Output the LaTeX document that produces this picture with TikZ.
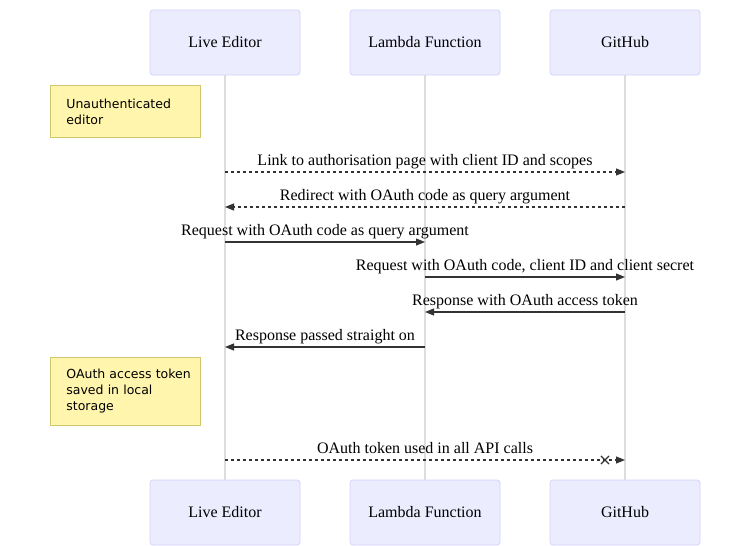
\documentclass[tikz,border=0pt]{standalone}
\usepackage{fontspec}
\setmainfont{Liberation Serif}
\newfontfamily\notefont{DejaVu Sans}
\usetikzlibrary{positioning,arrows.meta,shapes.misc}

\definecolor{actorfill}{HTML}{ECECFF}
\definecolor{actorline}{HTML}{D2D2FA}
\definecolor{notefill}{HTML}{FFF5AD}
\definecolor{noteline}{HTML}{CFC66E}
\definecolor{lifegray}{HTML}{DDDDDD}
\definecolor{msgline}{HTML}{333333}

\begin{document}
\begin{tikzpicture}
[x=1pt, y=-1pt,
    font=\fontsize{16}{19}\selectfont,
    actor/.style={rectangle, rounded corners=3pt, fill=actorfill,
        draw=actorline, line width=0.8pt,
        minimum width=150pt, minimum height=65pt},
    note/.style={rectangle, fill=notefill, draw=noteline, line width=0.8pt,
        anchor=north west, minimum width=150pt, text width=118pt,
        inner xsep=16pt, inner ysep=0pt, align=left,
        font=\notefont\fontsize{12.5}{16}\selectfont},
    lifeline/.style={draw=lifegray, line width=1.5pt},
    msg/.style={draw=msgline, line width=1.1pt,
        -{Triangle[length=9pt,width=7pt]}},
    reply/.style={msg, dash pattern=on 3pt off 3pt},
    msgtext/.style={font=\fontsize{16}{19}\selectfont, anchor=base, yshift=7pt,
        inner sep=0pt, text=black},
    ]
    % fix the page size
    \useasboundingbox (0,0) rectangle (750,546);

    % participants, top row
    \node[actor] (editor) at (225,42.5) {Live Editor};
    \node[actor] (lambda) at (425,42.5) {Lambda Function};
    \node[actor] (github) at (625,42.5) {GitHub};

    % participants, bottom row
    \node[actor] (editorb) at (225,512.5) {Live Editor};
    \node[actor] (lambdab) at (425,512.5) {Lambda Function};
    \node[actor] (githubb) at (625,512.5) {GitHub};

    % lifelines
    \draw[lifeline] (editor) -- (editorb);
    \draw[lifeline] (lambda) -- (lambdab);
    \draw[lifeline] (github) -- (githubb);

    % notes
    \node[note, minimum height=52pt] (note1) at (50,85)
        {Unauthenticated\\editor};
    \node[note, minimum height=68pt] (note2) at (50,357)
        {\mbox{OAuth access token}\\saved in local\\storage};

    % message end points
    \coordinate (e1) at (225,172); \coordinate (g1) at (625,172);
    \coordinate (e2) at (225,207); \coordinate (g2) at (625,207);
    \coordinate (e3) at (225,242); \coordinate (l3) at (425,242);
    \coordinate (l4) at (425,277); \coordinate (g4) at (625,277);
    \coordinate (l5) at (425,312); \coordinate (g5) at (625,312);
    \coordinate (e6) at (225,347); \coordinate (l6) at (425,347);
    \coordinate (e7) at (225,460); \coordinate (g7) at (625,460);

    % messages
    \draw[reply] (e1) -- node[msgtext] {Link to authorisation page with client ID and scopes} (g1);
    \draw[reply] (g2) -- node[msgtext] {Redirect with OAuth code as query argument} (e2);
    \draw[msg] (e3) -- node[msgtext] {Request with OAuth code as query argument} (l3);
    \draw[msg] (l4) -- node[msgtext] {Request with OAuth code, client ID and client secret} (g4);
    \draw[msg] (g5) -- node[msgtext] {Response with OAuth access token} (l5);
    \draw[msg] (l6) -- node[msgtext] {Response passed straight on} (e6);
    \draw[reply] (e7) -- node[msgtext] {OAuth token used in all API calls} (g7);
    \node[cross out, draw=msgline, line width=1.1pt, minimum size=7pt,
        inner sep=0pt] (cross) at (605,460) {};

\end{tikzpicture}
\end{document}
